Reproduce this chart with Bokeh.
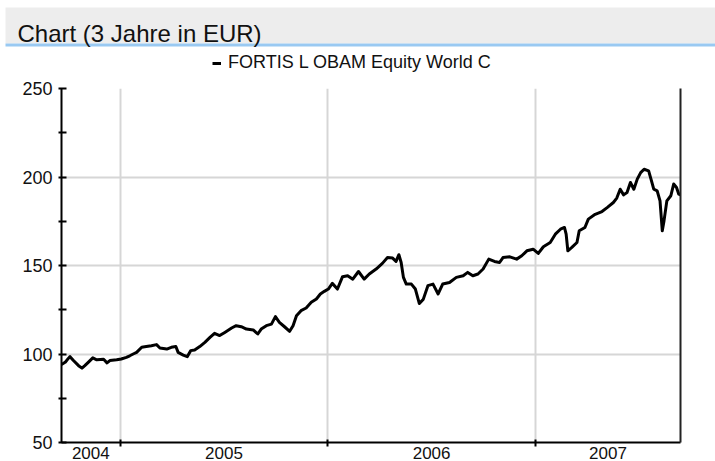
import pandas as pd
from bokeh.plotting import figure
from bokeh.layouts import column
from bokeh.models import (FixedTicker, Range1d, LinearAxis, Label, BoxAnnotation,
                          Legend, LegendItem, ColumnDataSource)
from bokeh.embed import file_html
from bokeh.resources import INLINE

# ---------------- data ----------------
title_text = "Chart (3 Jahre in EUR)"
series_name = "FORTIS L OBAM Equity World C"

dates = [
    "2004-09-20", "2004-09-27", "2004-10-02", "2004-10-05", "2004-10-11", "2004-10-20",
    "2004-10-26", "2004-10-31", "2004-11-06", "2004-11-14", "2004-11-21", "2004-12-03",
    "2004-12-09", "2004-12-14", "2004-12-26", "2005-01-03", "2005-01-12", "2005-01-18",
    "2005-01-24", "2005-01-30", "2005-02-08", "2005-02-16", "2005-02-25", "2005-03-06",
    "2005-03-12", "2005-03-24", "2005-04-01", "2005-04-09", "2005-04-13", "2005-04-22",
    "2005-04-29", "2005-05-05", "2005-05-12", "2005-05-21", "2005-05-30", "2005-06-08",
    "2005-06-16", "2005-06-25", "2005-07-04", "2005-07-16", "2005-07-24", "2005-08-02",
    "2005-08-11", "2005-08-23", "2005-08-31", "2005-09-06", "2005-09-15", "2005-09-24",
    "2005-10-01", "2005-10-08", "2005-10-17", "2005-10-26", "2005-11-01", "2005-11-07",
    "2005-11-15", "2005-11-24", "2005-12-03", "2005-12-12", "2005-12-19", "2005-12-26",
    "2006-01-02", "2006-01-09", "2006-01-18", "2006-01-27", "2006-02-05", "2006-02-14",
    "2006-02-24", "2006-03-06", "2006-03-15", "2006-03-27", "2006-04-07", "2006-04-16",
    "2006-04-25", "2006-05-01", "2006-05-06", "2006-05-10", "2006-05-14", "2006-05-19",
    "2006-05-28", "2006-06-04", "2006-06-11", "2006-06-18", "2006-06-26", "2006-07-05",
    "2006-07-14", "2006-07-22", "2006-08-03", "2006-08-15", "2006-08-27", "2006-09-04",
    "2006-09-13", "2006-09-22", "2006-10-01", "2006-10-11", "2006-10-21", "2006-10-30",
    "2006-11-05", "2006-11-17", "2006-11-29", "2006-12-08", "2006-12-17", "2006-12-28",
    "2007-01-06", "2007-01-15", "2007-01-27", "2007-02-05", "2007-02-14", "2007-02-21",
    "2007-02-24", "2007-02-27", "2007-03-06", "2007-03-15", "2007-03-19", "2007-03-29",
    "2007-04-04", "2007-04-16", "2007-04-28", "2007-05-07", "2007-05-18", "2007-05-24",
    "2007-05-30", "2007-06-05", "2007-06-11", "2007-06-17", "2007-06-23", "2007-06-29",
    "2007-07-05", "2007-07-11", "2007-07-19", "2007-07-24", "2007-07-28", "2007-08-03",
    "2007-08-08", "2007-08-12", "2007-08-15", "2007-08-20", "2007-08-27", "2007-09-01",
    "2007-09-06", "2007-09-10", "2007-09-13",
]
prices = [
    94.0, 95.5, 97.5, 98.5, 96.3, 93.4,
    92.0, 93.4, 95.3, 97.8, 96.7, 97.0,
    95.0, 96.3, 96.7, 97.2, 98.1, 99.0,
    100.0, 100.9, 103.8, 104.2, 104.7, 105.3,
    103.4, 102.8, 103.8, 104.2, 100.9, 99.4,
    98.5, 101.9, 102.3, 104.2, 106.6, 109.4,
    111.7, 110.4, 112.2, 114.7, 116.0, 115.4,
    114.1, 113.6, 111.3, 114.1, 116.0, 116.9,
    121.1, 117.9, 115.4, 112.8, 116.0, 121.6,
    124.5, 126.0, 129.2, 131.1, 133.9, 135.4,
    136.7, 139.9, 136.7, 143.7, 144.2, 142.3,
    146.6, 142.3, 145.2, 148.0, 151.2, 154.5,
    154.2, 152.3, 156.1, 151.7, 143.3, 139.5,
    139.5, 136.7, 128.5, 131.0, 138.6, 139.5,
    133.9, 139.5, 140.4, 143.3, 144.2, 146.1,
    144.2, 145.2, 148.0, 153.6, 152.3, 151.7,
    154.5, 154.9, 153.6, 155.5, 158.3, 159.2,
    156.8, 160.6, 163.0, 167.7, 170.5, 171.5,
    167.7, 158.3, 160.2, 163.0, 169.6, 171.5,
    176.2, 178.9, 180.5, 182.7, 185.6, 188.1,
    193.1, 189.9, 191.2, 196.9, 193.1, 198.8,
    202.5, 204.4, 203.5, 197.8, 193.1, 192.2,
    186.5, 169.6, 175.2, 186.5, 189.4, 196.0,
    194.1, 190.3, 189.9,
]

x_start, x_end = "2004-09-20", "2007-09-13"
year_starts = ["2005-01-01", "2006-01-01", "2007-01-01"]
year_labels = ["2004", "2005", "2006", "2007"]
y_ticks = [50, 100, 150, 200, 250]
y_minor = [75, 125, 175, 225]

# ---------------- helpers ----------------
def ms(d):
    return pd.Timestamp(d).value / 1e6

FONT = "Liberation Sans"
W = 715
HEAD_H = 76
MAIN_H = 461 - HEAD_H

src = ColumnDataSource(dict(date=pd.to_datetime(dates), price=prices))
LINE_STYLE = dict(line_color="black", line_width=3, line_join="round")

# ---------------- header band with title and legend ----------------
h = figure(width=W, height=HEAD_H, x_range=Range1d(0, W), y_range=Range1d(HEAD_H, 0),
           x_axis_location=None, y_axis_location=None,
           output_backend="svg", toolbar_location=None,
           min_border_left=0, min_border_right=0, min_border_top=0, min_border_bottom=0)
h.frame_align = False
h.outline_line_color = None
h.xgrid.visible = False
h.ygrid.visible = False
h.background_fill_color = "white"
h.border_fill_color = "white"

h.add_layout(BoxAnnotation(left=5, right=W, top=7, bottom=43,
                           fill_color="#ededed", fill_alpha=1, line_color=None))
h.add_layout(BoxAnnotation(left=5, right=W, top=43, bottom=46,
                           fill_color="#99c9f2", fill_alpha=1, line_color=None))
h.add_layout(Label(x=17, y=33, text=title_text, text_align="left",
                   text_baseline="alphabetic", text_font=FONT,
                   text_font_size="24px", text_color="#111111"))

# legend key: the same series with the same style (its data lie outside this strip's view)
key = h.line("date", "price", source=src, **LINE_STYLE)
legend = Legend(items=[LegendItem(label=series_name, renderers=[key])],
                location=(212, 3), orientation="horizontal",
                padding=0, margin=0, spacing=0, label_standoff=7,
                glyph_width=9, glyph_height=20, label_height=20,
                label_text_font=FONT, label_text_font_size="18px",
                label_text_color="#111111",
                border_line_color=None, background_fill_alpha=0)
h.add_layout(legend, "center")

# ---------------- main chart ----------------
p = figure(width=W, height=MAIN_H, x_axis_type="datetime",
           x_range=Range1d(ms(x_start), ms(x_end)), y_range=Range1d(50, 250),
           output_backend="svg", toolbar_location=None,
           min_border_left=61, min_border_right=35, min_border_top=12,
           min_border_bottom=19)
p.frame_align = False
p.outline_line_color = None
p.background_fill_color = "white"
p.border_fill_color = "white"

bounds = [ms(d) for d in year_starts]
edges = [ms(x_start)] + bounds + [ms(x_end)]
mids = [(edges[i] + edges[i + 1]) / 2 for i in range(len(year_labels))]

# grid
p.xgrid.ticker = FixedTicker(ticks=bounds)
p.xgrid.grid_line_color = "#d6d6d6"
p.xgrid.grid_line_width = 2
p.ygrid.ticker = FixedTicker(ticks=y_ticks)
p.ygrid.grid_line_color = "#d6d6d6"
p.ygrid.grid_line_width = 2

# y axis
ya = p.yaxis[0]
ya.ticker = FixedTicker(ticks=y_ticks, minor_ticks=y_minor)
ya.axis_line_color = "black"
ya.axis_line_width = 2
ya.major_tick_line_color = "black"
ya.major_tick_line_width = 2
ya.major_tick_in = 5
ya.major_tick_out = 3
ya.minor_tick_line_color = "black"
ya.minor_tick_line_width = 2
ya.minor_tick_in = 5
ya.minor_tick_out = 3
ya.major_label_standoff = 6
ya.major_label_text_font = FONT
ya.major_label_text_font_size = "18px"
ya.major_label_text_color = "#111111"

# x axis: labels centred in each visible year, tick marks at year boundaries
xa = p.xaxis[0]
xa.ticker = FixedTicker(ticks=mids, minor_ticks=bounds)
xa.major_label_overrides = {m: lab for m, lab in zip(mids, year_labels)}
xa.axis_line_color = "black"
xa.axis_line_width = 2
xa.major_tick_line_color = None
xa.major_tick_in = 0
xa.major_tick_out = 0
xa.minor_tick_line_color = "black"
xa.minor_tick_line_width = 2
xa.minor_tick_in = 3
xa.minor_tick_out = 4
xa.major_label_standoff = 0
xa.major_label_text_font = FONT
xa.major_label_text_font_size = "17px"
xa.major_label_text_color = "#111111"

# right border line
ra = LinearAxis(ticker=FixedTicker(ticks=[]), axis_line_color="#222222",
                axis_line_width=2, major_tick_line_color=None,
                minor_tick_line_color=None, major_label_text_font_size="0px")
p.add_layout(ra, "right")

p.line("date", "price", source=src, **LINE_STYLE)

layout = column(h, p, spacing=0)
open("out.html", "w").write(file_html(layout, INLINE))
